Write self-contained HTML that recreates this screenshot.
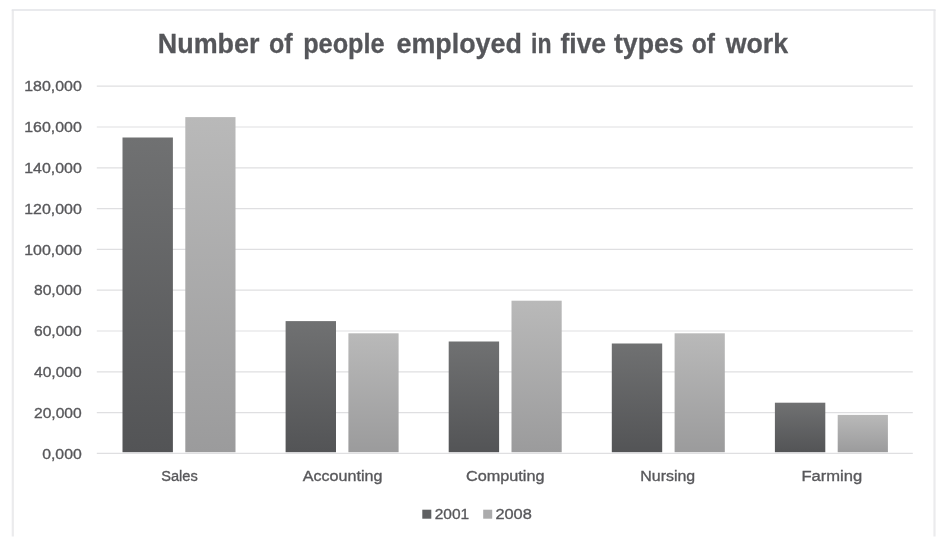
<!DOCTYPE html>
<html lang="en">
<head>
<meta charset="utf-8">
<title>Number of people employed in five types of work</title>
<style>
html,body{margin:0;padding:0;background:#fff;}
body{width:946px;height:548px;overflow:hidden;}
svg{display:block;}
text{font-family:"Liberation Sans",sans-serif;white-space:pre;}
.t{font-weight:bold;font-size:27.5px;fill:#55565a;stroke:#55565a;stroke-width:.3px;}
.l{font-size:15px;fill:#58585b;stroke:#58585b;stroke-width:.35px;}
.c{font-size:15.5px;}
</style>
</head>
<body>
<svg width="946" height="548" viewBox="0 0 946 548">
<defs>
<linearGradient id="gd" x1="0" y1="0" x2="0" y2="1"><stop offset="0" stop-color="#707172"/><stop offset="1" stop-color="#535456"/></linearGradient>
<linearGradient id="gl" x1="0" y1="0" x2="0" y2="1"><stop offset="0" stop-color="#b9b9b9"/><stop offset="1" stop-color="#9b9b9c"/></linearGradient>
</defs>
<rect width="946" height="548" fill="#ffffff"/>
<path d="M12.8 536.6 V10 M934.5 10 V536.6" fill="none" stroke="#ebebed" stroke-width="2.2"/>
<path d="M11.7 10 H935.6" fill="none" stroke="#e2e3e7" stroke-width="1.6"/>
<line x1="96.8" x2="912.8" y1="453.4" y2="453.4" stroke="#dfdfe1" stroke-width="1.2"/>
<line x1="96.8" x2="912.8" y1="412.6" y2="412.6" stroke="#dfdfe1" stroke-width="1.2"/>
<line x1="96.8" x2="912.8" y1="371.8" y2="371.8" stroke="#dfdfe1" stroke-width="1.2"/>
<line x1="96.8" x2="912.8" y1="331.0" y2="331.0" stroke="#dfdfe1" stroke-width="1.2"/>
<line x1="96.8" x2="912.8" y1="290.2" y2="290.2" stroke="#dfdfe1" stroke-width="1.2"/>
<line x1="96.8" x2="912.8" y1="249.4" y2="249.4" stroke="#dfdfe1" stroke-width="1.2"/>
<line x1="96.8" x2="912.8" y1="208.6" y2="208.6" stroke="#dfdfe1" stroke-width="1.2"/>
<line x1="96.8" x2="912.8" y1="167.8" y2="167.8" stroke="#dfdfe1" stroke-width="1.2"/>
<line x1="96.8" x2="912.8" y1="127.0" y2="127.0" stroke="#dfdfe1" stroke-width="1.2"/>
<line x1="96.8" x2="912.8" y1="86.2" y2="86.2" stroke="#dfdfe1" stroke-width="1.2"/>
<rect x="122.5" y="137.5" width="50.4" height="314.7" fill="url(#gd)"/>
<rect x="185.3" y="117.1" width="50.2" height="335.1" fill="url(#gl)"/>
<rect x="285.6" y="321.1" width="50.4" height="131.1" fill="url(#gd)"/>
<rect x="348.4" y="333.3" width="50.2" height="118.9" fill="url(#gl)"/>
<rect x="448.7" y="341.5" width="50.4" height="110.7" fill="url(#gd)"/>
<rect x="511.5" y="300.7" width="50.2" height="151.5" fill="url(#gl)"/>
<rect x="611.8" y="343.5" width="50.4" height="108.7" fill="url(#gd)"/>
<rect x="674.6" y="333.3" width="50.2" height="118.9" fill="url(#gl)"/>
<rect x="774.9" y="402.7" width="50.4" height="49.5" fill="url(#gd)"/>
<rect x="837.7" y="414.9" width="50.2" height="37.3" fill="url(#gl)"/>
<text class="t"><tspan x="157.84" y="53.2" textLength="101.65" lengthAdjust="spacingAndGlyphs">Number</tspan> <tspan x="268.98" y="53.2" textLength="23.63" lengthAdjust="spacingAndGlyphs">of</tspan> <tspan x="303.18" y="53.2" textLength="81.36" lengthAdjust="spacingAndGlyphs">people</tspan> <tspan x="396.52" y="53.2" textLength="125.38" lengthAdjust="spacingAndGlyphs">employed</tspan> <tspan x="531.08" y="53.2" textLength="20.45" lengthAdjust="spacingAndGlyphs">in</tspan> <tspan x="560.44" y="53.2" textLength="45.67" lengthAdjust="spacingAndGlyphs">five</tspan> <tspan x="613.88" y="53.2" textLength="69.79" lengthAdjust="spacingAndGlyphs">types</tspan> <tspan x="691.86" y="53.2" textLength="23.21" lengthAdjust="spacingAndGlyphs">of</tspan> <tspan x="725.66" y="53.2" textLength="62.35" lengthAdjust="spacingAndGlyphs">work</tspan></text>
<text class="l"><tspan x="42.20" y="458.6" textLength="39.54" lengthAdjust="spacingAndGlyphs">0,000</tspan></text>
<text class="l"><tspan x="33.96" y="417.8" textLength="47.77" lengthAdjust="spacingAndGlyphs">20,000</tspan></text>
<text class="l"><tspan x="33.96" y="377.0" textLength="47.77" lengthAdjust="spacingAndGlyphs">40,000</tspan></text>
<text class="l"><tspan x="33.96" y="336.2" textLength="47.77" lengthAdjust="spacingAndGlyphs">60,000</tspan></text>
<text class="l"><tspan x="33.96" y="295.4" textLength="47.77" lengthAdjust="spacingAndGlyphs">80,000</tspan></text>
<text class="l"><tspan x="24.20" y="254.6" textLength="57.56" lengthAdjust="spacingAndGlyphs">100,000</tspan></text>
<text class="l"><tspan x="24.20" y="213.8" textLength="57.56" lengthAdjust="spacingAndGlyphs">120,000</tspan></text>
<text class="l"><tspan x="24.20" y="173.0" textLength="57.56" lengthAdjust="spacingAndGlyphs">140,000</tspan></text>
<text class="l"><tspan x="24.20" y="132.2" textLength="57.56" lengthAdjust="spacingAndGlyphs">160,000</tspan></text>
<text class="l"><tspan x="24.20" y="91.4" textLength="57.56" lengthAdjust="spacingAndGlyphs">180,000</tspan></text>
<text class="l c"><tspan x="161.20" y="481.3" textLength="36.55" lengthAdjust="spacingAndGlyphs">Sales</tspan></text>
<text class="l c"><tspan x="302.78" y="481.3" textLength="79.72" lengthAdjust="spacingAndGlyphs">Accounting</tspan></text>
<text class="l c"><tspan x="465.98" y="481.3" textLength="78.55" lengthAdjust="spacingAndGlyphs">Computing</tspan></text>
<text class="l c"><tspan x="640.30" y="481.3" textLength="54.89" lengthAdjust="spacingAndGlyphs">Nursing</tspan></text>
<text class="l c"><tspan x="801.40" y="481.3" textLength="60.86" lengthAdjust="spacingAndGlyphs">Farming</tspan></text>
<text class="l c"><tspan x="434.76" y="519.4" textLength="34.48" lengthAdjust="spacingAndGlyphs">2001</tspan></text>
<text class="l c"><tspan x="495.42" y="519.4" textLength="36.41" lengthAdjust="spacingAndGlyphs">2008</tspan></text>
<rect x="422.3" y="509.7" width="9" height="9" fill="#5f6062"/>
<rect x="483.2" y="509.7" width="9" height="9" fill="#ababac"/>
</svg>
</body>
</html>
